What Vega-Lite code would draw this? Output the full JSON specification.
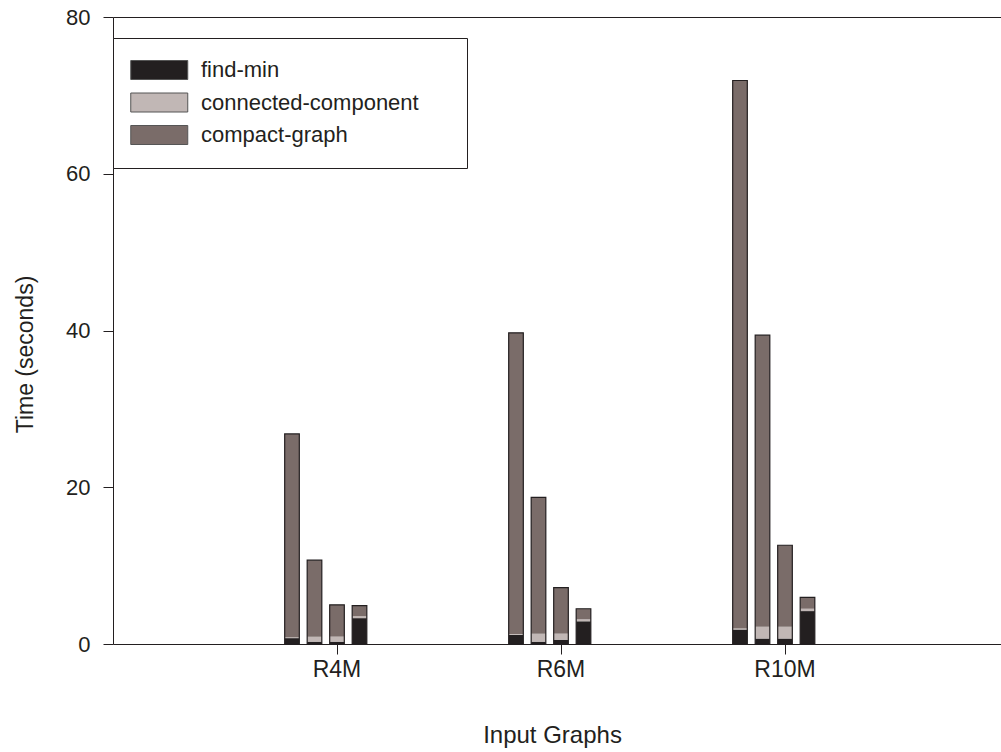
{
  "$schema": "https://vega.github.io/schema/vega-lite/v6.json",
  "autosize": {"type": "none"},
  "width": 888,
  "height": 627,
  "padding": {"left": 113, "top": 17, "right": 0, "bottom": 108},
  "background": "white",
  "config": {
    "view": {"stroke": null},
    "font": "Liberation Sans",
    "axis": {"domainColor": "#231f20", "tickColor": "#231f20", "labelColor": "#231f20", "titleColor": "#231f20", "labelFont": "Liberation Sans", "titleFont": "Liberation Sans", "titleFontWeight": "normal"}
  },
  "data": {
    "values": [
      {"graph": "R4M", "run": "a", "phase": "find-min", "time": 0.75},
      {"graph": "R4M", "run": "a", "phase": "connected-component", "time": 0.12},
      {"graph": "R4M", "run": "a", "phase": "compact-graph", "time": 25.93},
      {"graph": "R4M", "run": "b", "phase": "find-min", "time": 0.3},
      {"graph": "R4M", "run": "b", "phase": "connected-component", "time": 0.64},
      {"graph": "R4M", "run": "b", "phase": "compact-graph", "time": 9.76},
      {"graph": "R4M", "run": "c", "phase": "find-min", "time": 0.3},
      {"graph": "R4M", "run": "c", "phase": "connected-component", "time": 0.64},
      {"graph": "R4M", "run": "c", "phase": "compact-graph", "time": 4.06},
      {"graph": "R4M", "run": "d", "phase": "find-min", "time": 3.3},
      {"graph": "R4M", "run": "d", "phase": "connected-component", "time": 0.25},
      {"graph": "R4M", "run": "d", "phase": "compact-graph", "time": 1.35},
      {"graph": "R6M", "run": "a", "phase": "find-min", "time": 1.17},
      {"graph": "R6M", "run": "a", "phase": "connected-component", "time": 0.12},
      {"graph": "R6M", "run": "a", "phase": "compact-graph", "time": 38.41},
      {"graph": "R6M", "run": "b", "phase": "find-min", "time": 0.3},
      {"graph": "R6M", "run": "b", "phase": "connected-component", "time": 1.0},
      {"graph": "R6M", "run": "b", "phase": "compact-graph", "time": 17.4},
      {"graph": "R6M", "run": "c", "phase": "find-min", "time": 0.55},
      {"graph": "R6M", "run": "c", "phase": "connected-component", "time": 0.77},
      {"graph": "R6M", "run": "c", "phase": "compact-graph", "time": 5.88},
      {"graph": "R6M", "run": "d", "phase": "find-min", "time": 2.9},
      {"graph": "R6M", "run": "d", "phase": "connected-component", "time": 0.25},
      {"graph": "R6M", "run": "d", "phase": "compact-graph", "time": 1.35},
      {"graph": "R10M", "run": "a", "phase": "find-min", "time": 1.85},
      {"graph": "R10M", "run": "a", "phase": "connected-component", "time": 0.12},
      {"graph": "R10M", "run": "a", "phase": "compact-graph", "time": 69.93},
      {"graph": "R10M", "run": "b", "phase": "find-min", "time": 0.7},
      {"graph": "R10M", "run": "b", "phase": "connected-component", "time": 1.5},
      {"graph": "R10M", "run": "b", "phase": "compact-graph", "time": 37.2},
      {"graph": "R10M", "run": "c", "phase": "find-min", "time": 0.7},
      {"graph": "R10M", "run": "c", "phase": "connected-component", "time": 1.5},
      {"graph": "R10M", "run": "c", "phase": "compact-graph", "time": 10.4},
      {"graph": "R10M", "run": "d", "phase": "find-min", "time": 4.2},
      {"graph": "R10M", "run": "d", "phase": "connected-component", "time": 0.3},
      {"graph": "R10M", "run": "d", "phase": "compact-graph", "time": 1.45}
    ]
  },
  "encoding": {
    "x": {
      "field": "graph", "type": "nominal", "sort": ["R4M", "R6M", "R10M"],
      "scale": {"range": [0, 896], "paddingInner": 0, "paddingOuter": 0.5},
      "axis": {"title": "Input Graphs", "labelAngle": 0, "labelFontSize": 23, "titleFontSize": 24, "tickSize": 10, "labelPadding": 4, "titleX": 439, "titleY": 91, "titleBaseline": "middle", "titleAnchor": null, "titleAlign": "center"}
    },
    "xOffset": {
      "field": "run", "type": "nominal", "sort": ["a", "b", "c", "d"],
      "scale": {"range": [55.75, 145.75], "paddingInner": 0.35, "paddingOuter": 0.175}
    }
  },
  "layer": [
    {
      "mark": {"type": "bar"},
      "encoding": {
        "y": {
          "aggregate": "sum", "field": "time", "type": "quantitative",
          "scale": {"domain": [0, 80], "nice": false},
          "axis": {
            "title": "Time (seconds)", "values": [0, 20, 40, 60, 80], "labelFontSize": 22, "titleFontSize": 23,
            "tickSize": 10, "labelPadding": 13,
            "grid": true, "gridColor": "#231f20", "gridWidth": 1,
            "gridOpacity": {"condition": {"test": "datum.value == 80", "value": 1}, "value": 0},
            "titleX": -88, "titleY": 337, "titleAnchor": null, "titleAlign": "center", "titleBaseline": "middle", "titleAngle": 270
          }
        },
        "color": {
          "field": "phase", "type": "nominal",
          "sort": ["find-min", "connected-component", "compact-graph"],
          "scale": {"domain": ["find-min", "connected-component", "compact-graph"], "range": ["#231f20", "#c1b7b5", "#7a6c69"]},
          "legend": {
            "title": null,
            "orient": "none", "legendX": 0, "legendY": 21,
            "padding": 21, "strokeColor": "#231f20", "fillColor": "white",
            "symbolType": "M-1.5,-1H4.5V1H-1.5Z M31.4,0", "symbolSize": 361,
            "symbolStrokeColor": "#555", "symbolStrokeWidth": 1, "symbolOpacity": 1,
            "labelFont": "Liberation Sans", "labelFontSize": 22, "labelColor": "#231f20", "labelOffset": 45,
            "rowPadding": 8.5, "labelLimit": 400
          }
        }
      }
    },
    {
      "mark": {"type": "bar", "fill": "transparent", "stroke": "#231f20", "strokeWidth": 1.2},
      "encoding": {
        "y": {"aggregate": "sum", "field": "time", "type": "quantitative"}
      }
    }
  ]
}
